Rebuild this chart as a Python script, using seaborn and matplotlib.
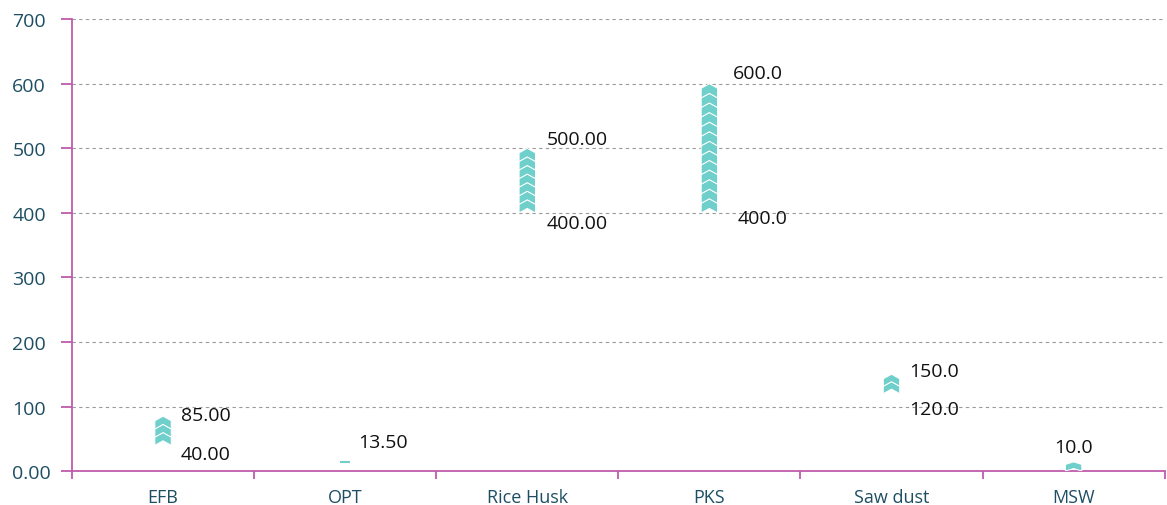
import matplotlib
matplotlib.use('Agg')
import matplotlib.pyplot as plt
import numpy as np
import seaborn as sns

# data
categories = ['EFB', 'OPT', 'Rice Husk', 'PKS', 'Saw dust', 'MSW']
low_values = [40, 12, 400, 400, 120, 0]
high_values = [85, 13.5, 500, 600, 150, 10]
high_labels = ['85.00', '13.50', '500.00', '600.0', '150.0', '10.0']
low_labels = ['40.00', '', '400.00', '400.0', '120.0', '']
y_ticks = [0, 100, 200, 300, 400, 500, 600, 700]
y_tick_labels = ['0.00', '100', '200', '300', '400', '500', '600', '700']

# label placement (offset points, alignment) - styling only
high_offsets = [(13, 1, 'left'), (9.5, 15, 'left'), (14, 7, 'left'),
                (17, 8, 'left'), (13, 2, 'left'), (0, 13, 'center')]
low_offsets = [(13, -6), (0, 0), (14, -7), (20, -4), (13, -11), (0, 0)]

sns.set_theme(style='white')
plt.rcParams['font.family'] = ['Open Sans', 'DejaVu Sans']

bar_color = '#6FCFCB'
spine_color = '#BE5CAD'
text_color = '#1D4E63'

fig = plt.figure(figsize=(11.67, 5.06), dpi=100)
ax = fig.add_axes([0.0617, 0.067, 0.9363, 0.893])

half_w = 0.045
unit = 14.3    # approximate height of one chevron

for i, (lo, hi) in enumerate(zip(low_values, high_values)):
    span = hi - lo
    if span < 5:
        # too thin for a chevron: just a short dash
        ax.plot([i - 0.028, i + 0.028], [hi, hi], color=bar_color, lw=1.5, solid_capstyle='butt')
    else:
        tip = min(7.0, span * 0.4)   # chevron point height
        n = max(1, int(round((span - tip) / unit)))
        h = max((span - tip) / n, unit - tip)
        for k in range(n):
            y0 = lo + k * h
            y1 = y0 + h
            xs = [i - half_w, i, i + half_w, i + half_w, i, i - half_w]
            ys = [y0, y0 + tip, y0, y1, y1 + tip, y1]
            ax.fill(xs, ys, color=bar_color, ec='white', lw=0.7, zorder=3)

    dx, dy, ha = high_offsets[i]
    ax.annotate(high_labels[i], (i, hi), xytext=(dx, dy), textcoords='offset points',
                fontsize=14, color='#111111', va='center', ha=ha)
    if low_labels[i]:
        dx, dy = low_offsets[i]
        ax.annotate(low_labels[i], (i, lo), xytext=(dx, dy), textcoords='offset points',
                    fontsize=14, color='#111111', va='center', ha='left')

ax.set_xlim(-0.5, 5.5)
ax.set_ylim(0, 700)
ax.set_yticks(y_ticks)
ax.set_yticklabels(y_tick_labels)
ax.set_xticks(range(len(categories)))
ax.set_xticklabels(categories)
ax.set_xticks(np.arange(-0.5, 6.0, 1.0), minor=True)

ax.yaxis.grid(True, linestyle=(0, (3, 3)), color='#9A9A9A', lw=0.8)
ax.set_axisbelow(True)

for s in ['top', 'right']:
    ax.spines[s].set_visible(False)
for s in ['left', 'bottom']:
    ax.spines[s].set_color(spine_color)
    ax.spines[s].set_linewidth(1.3)

ax.tick_params(axis='y', which='major', left=True, length=8, width=1.3, color=spine_color,
               labelsize=14, labelcolor=text_color, pad=35)
for lbl in ax.get_yticklabels():
    lbl.set_horizontalalignment('left')
ax.tick_params(axis='x', which='major', bottom=False, labelsize=13, labelcolor=text_color, pad=6)
ax.tick_params(axis='x', which='minor', bottom=True, length=6, width=1.3, color=spine_color,
               direction='out')
ax.tick_params(axis='y', which='minor', left=False)

fig.savefig('out.png', dpi=100)
